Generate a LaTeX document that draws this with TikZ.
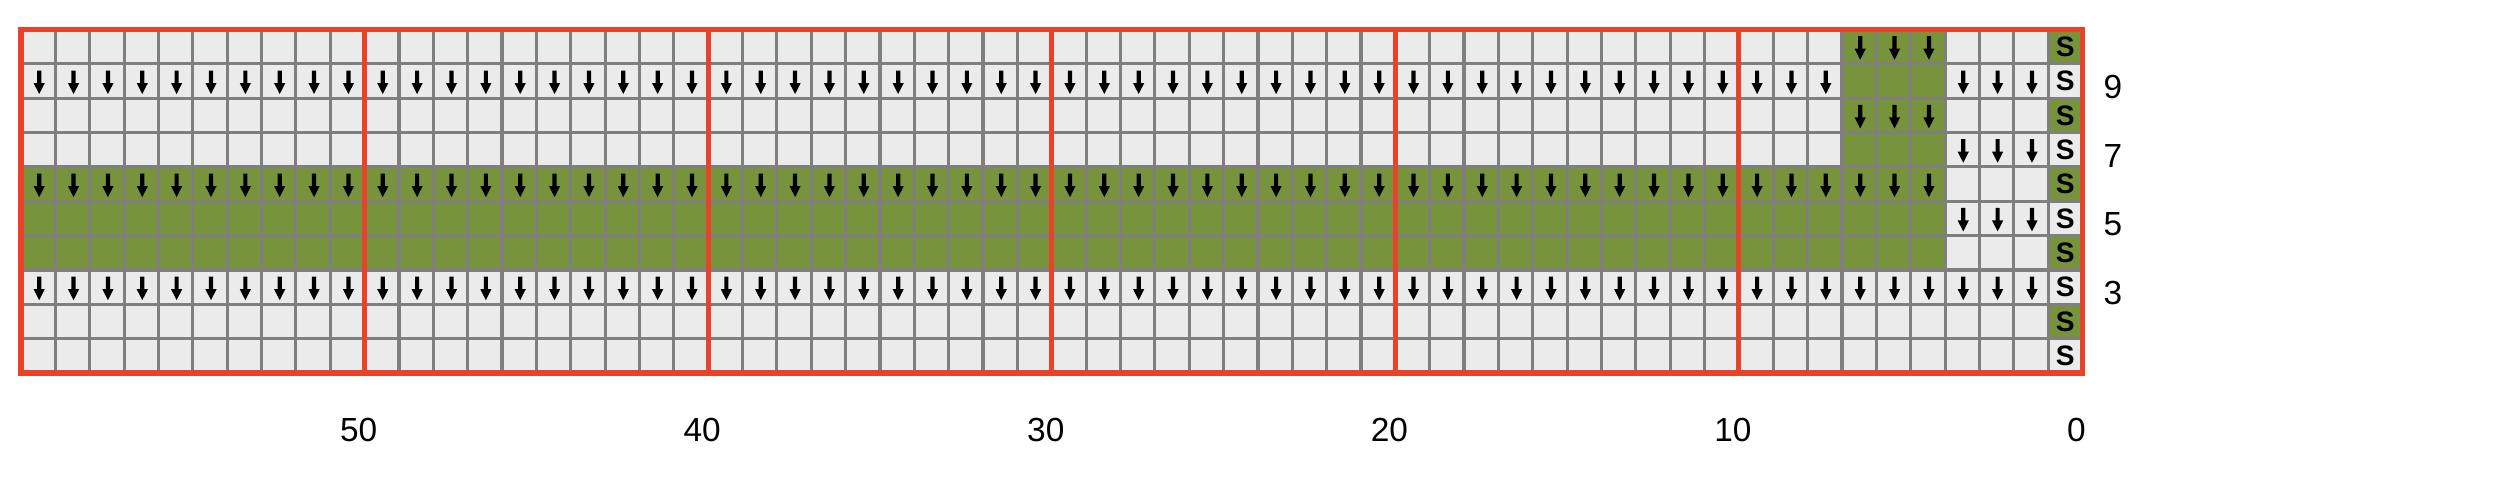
\documentclass[tikz,border=0pt]{standalone}
\usepackage{fontspec}
\setmainfont{Liberation Sans}
\definecolor{cellbg}{HTML}{EBEBEB}
\definecolor{knitgreen}{HTML}{77933C}
\definecolor{gridgray}{HTML}{7F7F7F}
\definecolor{bordred}{HTML}{E8432A}
\newcommand\knitarrow[2]{%
  \fill[arrowmark] ({#1-2.1},{#2-10.5}) -- ({#1+2.1},{#2-10.5}) -- ({#1+2.1},{#2+2}) -- ({#1+5.6},{#2+2}) -- ({#1},{#2+13}) -- ({#1-5.6},{#2+2}) -- ({#1-2.1},{#2+2}) -- cycle;}
\begin{document}
\begin{tikzpicture}[x=0.01cm,y=-0.01cm,
  greenfill/.style={fill=knitgreen},
  gridline/.style={draw=gridgray,line width=0.9pt},
  redline/.style={draw=bordred,line width=1.45pt},
  arrowmark/.style={fill=black},
  smark/.style={font=\fontsize{8}{8}\selectfont\bfseries,inner sep=0pt},
  lab/.style={font=\fontsize{9.5}{10}\selectfont,inner sep=0pt}]
\useasboundingbox (0,0) rectangle (2500,499);
\def\W{34.358}\def\H{34.35}\def\XR{2082.5}\def\YT{29.5}
% background
\fill[cellbg] ({\XR-60*\W},\YT) rectangle (\XR,{\YT+10*\H});
% green regions
\fill[greenfill] ({\XR-60*\W},{\YT+4*\H}) rectangle ({\XR-4*\W},{\YT+7*\H});
\fill[greenfill] ({\XR-7*\W},\YT) rectangle ({\XR-4*\W},{\YT+4*\H});
\foreach \r in {10,8,6,4,2}{
  \fill[greenfill] ({\XR-\W},{\YT+(10-\r)*\H}) rectangle (\XR,{\YT+(11-\r)*\H});
}
% grid lines
\foreach \k in {1,...,59}{
  \draw[gridline] ({\XR-\k*\W},\YT) -- ({\XR-\k*\W},{\YT+10*\H});
}
\foreach \j in {1,...,9}{
  \draw[gridline] ({\XR-60*\W},{\YT+\j*\H}) -- (\XR,{\YT+\j*\H});
}
% red lines
\foreach \k in {10,20,30,40,50}{
  \draw[redline] ({\XR-\k*\W},\YT) -- ({\XR-\k*\W},{\YT+10*\H});
}
\draw[redline] ({\XR-60*\W},\YT) rectangle (\XR,{\YT+10*\H});
% arrows
\foreach \r/\cs in {10/{5,6,7},8/{5,6,7},7/{2,3,4},5/{2,3,4},9/{2,3,4}}{
  \foreach \c in \cs{
    \knitarrow{\XR-(\c-0.5)*\W+1}{\YT+(10.5-\r)*\H}
  }
}
\foreach \r/\ca/\cb in {9/8/60,6/5/60,3/2/60}{
  \foreach \c in {\ca,...,\cb}{
    \knitarrow{\XR-(\c-0.5)*\W+1}{\YT+(10.5-\r)*\H}
  }
}
% S marks
\foreach \r in {1,...,10}{
  \node[smark] (s\r) at ({\XR-0.5*\W},{\YT+(10.5-\r)*\H}) {S};
}
% row labels
\foreach \r in {9,7,5,3}{
  \node[lab] (rl\r) at (2113,{\YT+(10.5-\r)*\H+6}) {\r};
}
% column labels
\foreach \k in {0,10,20,30,40,50}{
  \node[lab] (cl\k) at ({\XR-\k*\W-6},430) {\k};
}
\end{tikzpicture}
\end{document}
